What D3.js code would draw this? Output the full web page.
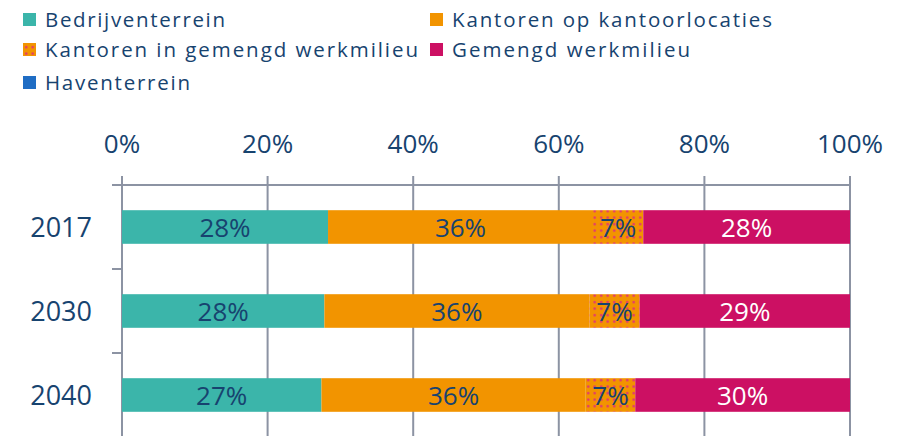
<!DOCTYPE html>
<html lang="nl">
<head>
<meta charset="utf-8">
<title>Werkmilieus</title>
<script src="https://cdn.jsdelivr.net/npm/d3@7/dist/d3.min.js"></script>
<style>
  body { margin: 0; background: #fff; }
  text { font-family: "Open Sans", sans-serif; }
</style>
</head>
<body>
<script>
// data
const years = ["2017", "2030", "2040"];
const series = ["Bedrijventerrein", "Kantoren op kantoorlocaties", "Kantoren in gemengd werkmilieu", "Gemengd werkmilieu", "Haventerrein"];
const bedrijventerrein = [28.3, 27.8, 27.4];
const kantoorlocaties = [36.4, 36.4, 36.3];
const kantorenGemengd = [6.9, 6.9, 6.8];
const gemengd = [28.4, 28.9, 29.5];
const haventerrein = [0, 0, 0];
const tickValues = [0, 20, 40, 60, 80, 100];

const colors = ["#3bb5aa", "#f29400", "url(#dots)", "#cc1063", "#1f6dc4"];
const textColor = "#17436f";
const axisColor = "#8c93a3";

const width = 903, height = 436;
const svg = d3.select("body").append("svg")
    .attr("width", width).attr("height", height);

// dotted pattern for kantoren in gemengd werkmilieu
const pat = svg.append("defs").append("pattern")
    .attr("id", "dots").attr("patternUnits", "userSpaceOnUse")
    .attr("width", 6.5).attr("height", 6.5);
pat.append("rect").attr("width", 6.5).attr("height", 6.5).attr("fill", "#f29400");
pat.append("circle").attr("cx", 3.2).attr("cy", 3.2).attr("r", 1.3).attr("fill", "#e2386f");

const rows = years.map((y, i) => ({
    year: y,
    vals: [bedrijventerrein[i], kantoorlocaties[i], kantorenGemengd[i], gemengd[i], haventerrein[i]]
}));

const x = d3.scaleLinear().domain([0, 100]).range([122, 850]);
const y = d3.scaleBand().domain(years).range([185, 437]).paddingInner(0.6).paddingOuter(0.3);

// gridlines
svg.append("g").selectAll("line").data(tickValues).join("line")
    .attr("x1", d => x(d)).attr("x2", d => x(d))
    .attr("y1", 176).attr("y2", height)
    .attr("stroke", axisColor).attr("stroke-width", 2);

// top axis line
svg.append("line").attr("x1", 112).attr("x2", x(100))
    .attr("y1", 185).attr("y2", 185)
    .attr("stroke", axisColor).attr("stroke-width", 2);

// category ticks at band boundaries
const step = y.step();
svg.append("g").selectAll("line").data(years.slice(1)).join("line")
    .attr("x1", 112).attr("x2", x(0))
    .attr("y1", d => y(d) - step * 0.3).attr("y2", d => y(d) - step * 0.3)
    .attr("stroke", axisColor).attr("stroke-width", 2);

// tick labels
svg.append("g").selectAll("text").data(tickValues).join("text")
    .attr("x", d => x(d)).attr("y", 153)
    .attr("text-anchor", "middle")
    .attr("font-size", 26).attr("fill", textColor)
    .text(d => d + "%");

svg.append("g").selectAll("text").data(years).join("text")
    .attr("x", 92).attr("y", d => y(d) + y.bandwidth() / 2 + 9.5)
    .attr("text-anchor", "end")
    .attr("font-size", 27).attr("fill", textColor)
    .text(d => d);

// bars
const barG = svg.append("g").selectAll("g").data(rows).join("g");
barG.each(function(r) {
    const g = d3.select(this);
    let acc = 0;
    r.vals.forEach((v, k) => {
        const x0 = x(acc), x1 = x(acc + v);
        acc += v;
        if (v <= 0) return;
        g.append("rect")
            .attr("x", x0).attr("width", x1 - x0)
            .attr("y", y(r.year)).attr("height", y.bandwidth())
            .attr("fill", colors[k]);
        g.append("text")
            .attr("x", (x0 + x1) / 2).attr("y", y(r.year) + y.bandwidth() / 2 + 10)
            .attr("text-anchor", "middle")
            .attr("font-size", 26)
            .attr("fill", k === 3 ? "#fff" : textColor)
            .text(Math.round(v) + "%");
    });
});

// legend
const legendPos = [[23, 27], [430, 27], [23, 57], [430, 57], [23, 90]];
const legendTextWidth = [180, 320, 373, 238, 145];
const lg = svg.append("g").selectAll("g").data(series).join("g")
    .attr("transform", (d, i) => `translate(${legendPos[i][0]},${legendPos[i][1]})`);
lg.append("rect").attr("x", 0).attr("y", -14).attr("width", 13).attr("height", 13)
    .attr("fill", (d, i) => colors[i]);
lg.append("text").attr("x", 22).attr("y", 0)
    .attr("font-size", 20.5).attr("fill", textColor)
    .attr("textLength", (d, i) => legendTextWidth[i])
    .text(d => d);
</script>
</body>
</html>
